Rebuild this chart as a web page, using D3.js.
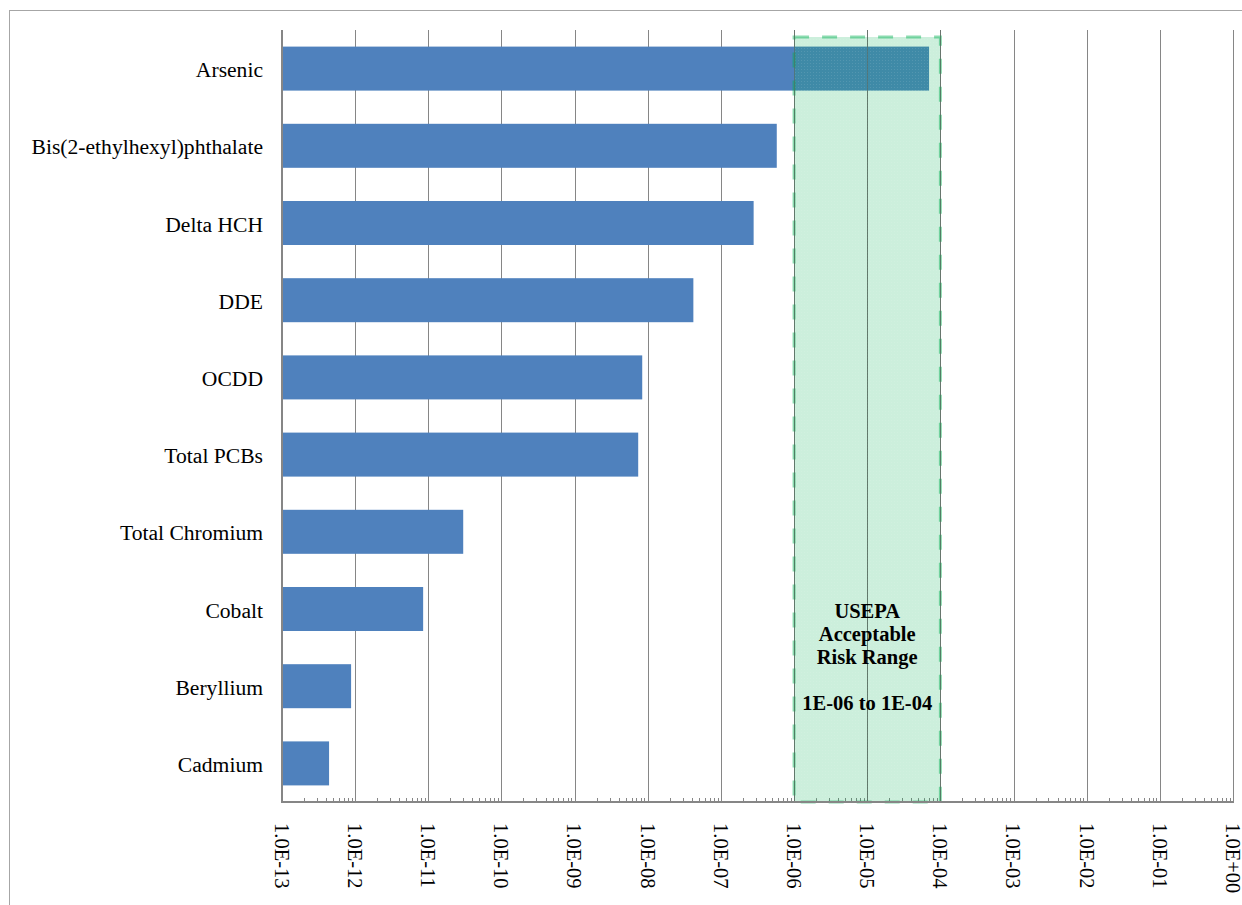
<!DOCTYPE html>
<html><head><meta charset="utf-8">
<script src="https://cdn.jsdelivr.net/npm/d3@7"></script>
<style>body{margin:0;background:#fff}svg{display:block}</style>
</head><body>
<svg id="c" width="1242" height="905"></svg>
<script>
const categories = ["Arsenic","Bis(2-ethylhexyl)phthalate","Delta HCH","DDE","OCDD","Total PCBs","Total Chromium","Cobalt","Beryllium","Cadmium"];
const riskValues = [7.0e-5, 5.8e-7, 2.8e-7, 4.2e-8, 8.4e-9, 7.4e-9, 3.0e-11, 8.5e-12, 8.8e-13, 4.4e-13];
const tickValues = [1e-13,1e-12,1e-11,1e-10,1e-9,1e-8,1e-7,1e-6,1e-5,1e-4,1e-3,1e-2,1e-1,1e0];
const tickLabels = ["1.0E-13","1.0E-12","1.0E-11","1.0E-10","1.0E-09","1.0E-08","1.0E-07","1.0E-06","1.0E-05","1.0E-04","1.0E-03","1.0E-02","1.0E-01","1.0E+00"];
const rangeLow = 1e-6, rangeHigh = 1e-4;
const annotationLines = ["USEPA","Acceptable","Risk Range","","1E-06 to 1E-04"];

const svg = d3.select("#c");
const L = 282, R = 1233, T = 30, B = 802;
const x = d3.scaleLog().domain([1e-13, 1]).range([L, R]);
const y = d3.scaleBand().domain(categories).range([T, B]).paddingInner(0.43).paddingOuter(0.215);

// outer border
svg.append("rect").attr("x",9.5).attr("y",10.5).attr("width",1300).attr("height",1000)
  .attr("fill","none").attr("stroke","#a6a6a6").attr("stroke-width",1);

// gridlines
svg.append("g").selectAll("line").data(tickValues.slice(1)).join("line")
  .attr("x1",d=>Math.round(x(d))+0.5).attr("x2",d=>Math.round(x(d))+0.5)
  .attr("y1",T).attr("y2",B).attr("stroke","#868686").attr("stroke-width",1);

// minor ticks
const minors = [];
for (let e=-13; e<0; e++) for (let k=2;k<=9;k++) minors.push(k*Math.pow(10,e));
svg.append("g").selectAll("line").data(minors).join("line")
  .attr("x1",d=>Math.round(x(d))+0.5).attr("x2",d=>Math.round(x(d))+0.5)
  .attr("y1",B-4).attr("y2",B).attr("stroke","#868686").attr("stroke-width",1);

// bars
svg.append("g").selectAll("rect").data(categories).join("rect")
  .attr("x",L).attr("y",d=>y(d)).attr("width",(d,i)=>x(riskValues[i])-L)
  .attr("height",y.bandwidth()).attr("fill","#4f81bd");

// risk range box
const defs = svg.append("defs");
const pat = defs.append("pattern").attr("id","dots").attr("width",3).attr("height",3).attr("patternUnits","userSpaceOnUse");
pat.append("rect").attr("width",3).attr("height",3).attr("fill","rgba(0,176,80,0.2)");
pat.append("rect").attr("width",1).attr("height",1).attr("fill","rgba(255,255,255,0.1)");
svg.append("rect").attr("x",x(rangeLow)).attr("y",37).attr("width",x(rangeHigh)-x(rangeLow)).attr("height",B-37)
  .attr("fill","url(#dots)");
svg.append("rect").attr("x",x(rangeLow)).attr("y",37).attr("width",x(rangeHigh)-x(rangeLow)).attr("height",B-37)
  .attr("fill","none").attr("stroke","rgba(0,176,80,0.45)").attr("stroke-width",3).attr("stroke-dasharray","15,13");
svg.append("g").selectAll("line").data([1e-6,1e-5,1e-4]).join("line")
  .attr("x1",d=>Math.round(x(d))+0.5).attr("x2",d=>Math.round(x(d))+0.5)
  .attr("y1",T).attr("y2",B).attr("stroke","#5a6a60").attr("stroke-width",1).attr("opacity",0.6);

// annotation
const cx = x(1e-5);
svg.append("g").selectAll("text").data(annotationLines).join("text")
  .attr("x",cx).attr("y",(d,i)=>618+i*23).attr("text-anchor","middle")
  .attr("font-family","Liberation Serif, serif").attr("font-weight","bold").attr("font-size",20.5)
  .attr("fill","#000").text(d=>d);

// axes lines
svg.append("line").attr("x1",L).attr("x2",L).attr("y1",T).attr("y2",B+1).attr("stroke","#868686").attr("stroke-width",2);
svg.append("line").attr("x1",L-1).attr("x2",R+1).attr("y1",B).attr("y2",B).attr("stroke","#868686").attr("stroke-width",2);

// category labels
svg.append("g").selectAll("text").data(categories).join("text")
  .attr("x",263).attr("y",d=>y(d)+y.bandwidth()/2+1).attr("dy","0.35em").attr("text-anchor","end")
  .attr("font-family","Liberation Serif, serif").attr("font-size",21.6).attr("fill","#000").text(d=>d);

// tick labels rotated
svg.append("g").selectAll("text").data(tickValues).join("text")
  .attr("transform",(d)=>`translate(${x(d)},823) rotate(90)`)
  .attr("dy","0.35em").attr("text-anchor","start")
  .attr("font-family","Liberation Serif, serif").attr("font-size",20.5).attr("fill","#000")
  .text((d,i)=>tickLabels[i]);
</script>
</body></html>
